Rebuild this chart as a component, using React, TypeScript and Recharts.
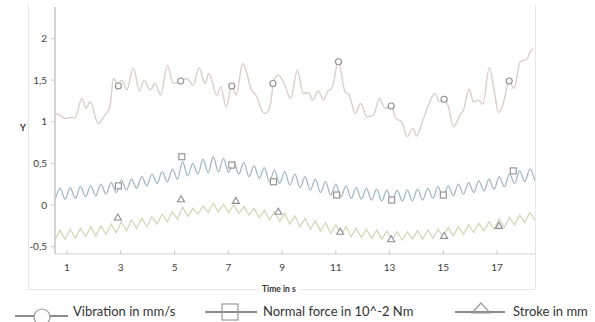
import { ComposedChart, Line, Scatter, XAxis, YAxis } from 'recharts'

// vibration trace: [time s, value]
const vibration: [number, number][] = [
  [0.55, 1.1], [0.74, 1.08], [0.93, 1.04], [1.11, 1.05], [1.3, 1.05], [1.55, 1.28],
  [1.71, 1.16], [1.86, 1.24], [2.16, 0.98], [2.41, 1.08], [2.6, 1.18], [2.72, 1.52],
  [2.91, 1.45], [3.04, 1.5], [3.22, 1.38], [3.47, 1.65], [3.69, 1.37], [3.87, 1.5],
  [4.09, 1.38], [4.27, 1.46], [4.49, 1.32], [4.73, 1.68], [4.96, 1.46], [5.23, 1.49],
  [5.45, 1.52], [5.7, 1.44], [5.91, 1.65], [6.13, 1.46], [6.28, 1.58], [6.57, 1.32],
  [6.72, 1.42], [6.92, 1.18], [7.13, 1.43], [7.29, 1.32], [7.54, 1.7], [7.87, 1.38],
  [8.06, 1.3], [8.21, 1.16], [8.37, 1.1], [8.55, 1.18], [8.7, 1.5], [8.86, 1.56],
  [9.05, 1.48], [9.32, 1.28], [9.57, 1.62], [9.79, 1.34], [9.98, 1.35], [10.14, 1.26],
  [10.35, 1.37], [10.54, 1.26], [10.69, 1.36], [10.85, 1.4], [11.1, 1.72], [11.34, 1.36],
  [11.5, 1.32], [11.72, 1.1], [11.93, 1.22], [12.15, 1.06], [12.4, 1.08], [12.62, 1.28],
  [12.83, 1.16], [13.06, 1.19], [13.24, 1.04], [13.45, 1.0], [13.66, 0.82], [13.86, 0.92],
  [14.01, 0.83], [14.2, 0.98], [14.38, 1.14], [14.69, 1.34], [14.85, 1.24], [15.03, 1.27],
  [15.19, 1.18], [15.37, 0.94], [15.62, 1.08], [15.75, 1.14], [15.96, 1.39], [16.12, 1.24],
  [16.3, 1.26], [16.47, 1.21], [16.71, 1.65], [16.89, 1.38], [17.05, 1.11], [17.23, 1.22],
  [17.45, 1.49], [17.63, 1.4], [17.86, 1.72], [18.1, 1.75], [18.23, 1.84], [18.35, 1.88],
]

// normal force and stroke: alternating troughs and peaks, half a cycle apart
const cycleStart = 0.55
const halfCycle = 0.19

const normalForce = [
  0.06, 0.2, 0.07, 0.21, 0.08, 0.22, 0.1, 0.23, 0.11, 0.25, 0.13, 0.27, 0.15, 0.3, 0.18, 0.31,
  0.2, 0.34, 0.23, 0.37, 0.26, 0.4, 0.28, 0.43, 0.31, 0.52, 0.35, 0.5, 0.37, 0.55, 0.39, 0.58,
  0.4, 0.56, 0.39, 0.52, 0.37, 0.51, 0.34, 0.47, 0.32, 0.45, 0.28, 0.42, 0.26, 0.4, 0.24, 0.37,
  0.21, 0.34, 0.18, 0.31, 0.15, 0.28, 0.12, 0.25, 0.1, 0.23, 0.08, 0.21, 0.07, 0.2, 0.06, 0.19,
  0.05, 0.18, 0.04, 0.18, 0.05, 0.18, 0.05, 0.19, 0.06, 0.2, 0.08, 0.22, 0.09, 0.23, 0.11, 0.25,
  0.13, 0.27, 0.15, 0.29, 0.17, 0.31, 0.19, 0.34, 0.22, 0.37, 0.26, 0.41, 0.28, 0.43, 0.29,
]

const stroke = [
  -0.42, -0.3, -0.41, -0.29, -0.4, -0.28, -0.38, -0.26, -0.37, -0.25, -0.35, -0.23, -0.33, -0.2,
  -0.31, -0.18, -0.28, -0.16, -0.26, -0.14, -0.23, -0.11, -0.2, -0.08, -0.17, -0.02, -0.14, -0.04,
  -0.11, -0.01, -0.09, 0.02, -0.08, 0.01, -0.09, 0.0, -0.1, -0.02, -0.12, -0.04, -0.15, -0.06,
  -0.18, -0.08, -0.2, -0.1, -0.23, -0.13, -0.26, -0.16, -0.29, -0.19, -0.31, -0.21, -0.34, -0.24,
  -0.36, -0.26, -0.38, -0.28, -0.39, -0.29, -0.4, -0.3, -0.41, -0.31, -0.42, -0.32, -0.42, -0.32,
  -0.41, -0.31, -0.41, -0.3, -0.4, -0.29, -0.38, -0.27, -0.37, -0.26, -0.35, -0.24, -0.33, -0.22,
  -0.31, -0.2, -0.29, -0.17, -0.27, -0.15, -0.24, -0.12, -0.21, -0.09, -0.18,
]

// marker positions
const vibMarks: [number, number][] = [
  [2.91, 1.43], [5.23, 1.49], [7.13, 1.43], [8.66, 1.46],
  [11.1, 1.72], [13.06, 1.19], [15.03, 1.27], [17.45, 1.49],
]
const forceMarks: [number, number][] = [
  [2.91, 0.23], [5.27, 0.58], [7.13, 0.48], [8.68, 0.28],
  [11.03, 0.12], [13.08, 0.06], [15.0, 0.12], [17.6, 0.41],
]
const strokeMarks: [number, number][] = [
  [2.89, -0.15], [5.24, 0.07], [7.28, 0.05], [8.86, -0.08],
  [11.16, -0.32], [13.06, -0.41], [15.03, -0.37], [17.07, -0.25],
]

const xTicks = [1, 3, 5, 7, 9, 11, 13, 15, 17]
const yTicks = [-0.5, 0, 0.5, 1, 1.5, 2]

const toPoints = (pairs: [number, number][]) => pairs.map(([t, v]) => ({ t, v }))
const onCycle = (vals: number[]) =>
  vals.map((v, i) => ({ t: +(cycleStart + i * halfCycle).toFixed(2), v }))

const markColor = '#8e8e8e'
const font = 'Lato, "Open Sans", sans-serif'

function CircleMark(p: any) {
  return <circle cx={p.cx} cy={p.cy} r={3} fill="#fff" stroke={markColor} strokeWidth={1.1} />
}
function SquareMark(p: any) {
  return <rect x={p.cx - 3} y={p.cy - 3} width={6} height={6} fill="#fff" stroke={markColor} strokeWidth={1.1} />
}
function TriangleMark(p: any) {
  const { cx, cy } = p
  return (
    <polygon
      points={`${cx},${cy - 3.5} ${cx - 3.5},${cy + 2.5} ${cx + 3.5},${cy + 2.5}`}
      fill="#fff"
      stroke={markColor}
      strokeWidth={1.1}
    />
  )
}

function XTick(p: any) {
  const { x, y, payload } = p
  return (
    <g>
      <line x1={x} x2={x} y1={y - 8} y2={y - 12} stroke="#c8c8c8" />
      <text x={x} y={y + 9} textAnchor="middle" fontSize={10} fill="#404040" fontFamily={font}>
        {payload.value}
      </text>
    </g>
  )
}

function LegendRow() {
  const txt = { fontSize: 13, fill: '#333', fontFamily: font }
  return (
    <svg width={595} height={30} style={{ position: 'absolute', left: 0, top: 296 }}>
      <line x1={15} x2={68} y1={20} y2={20} stroke="#8a8a8a" strokeWidth={2} />
      <circle cx={42} cy={21} r={8} fill="#fff" stroke="#9a9a9a" strokeWidth={1.2} />
      <text x={73} y={20} {...txt}>Vibration in mm/s</text>
      <line x1={205} x2={257} y1={16} y2={16} stroke="#8a8a8a" strokeWidth={2} />
      <rect x={222} y={8} width={16} height={16} fill="none" stroke="#9a9a9a" strokeWidth={1.2} />
      <text x={263} y={20} {...txt}>Normal force in 10^-2 Nm</text>
      <line x1={455} x2={505} y1={16} y2={16} stroke="#8a8a8a" strokeWidth={2} />
      <polygon points="481,7 472,17 490,17" fill="none" stroke="#9a9a9a" strokeWidth={1.2} />
      <text x={513} y={20} {...txt}>Stroke in mm</text>
    </svg>
  )
}

export default function App() {
  return (
    <div
      style={{
        position: 'absolute',
        left: 0,
        top: 0,
        width: 595,
        height: 322,
        background: '#fff',
        overflow: 'hidden',
        fontFamily: font,
      }}
    >
      <div
        style={{
          position: 'absolute',
          left: 28,
          top: 5,
          width: 506,
          height: 284,
          borderLeft: '1px solid #e6e6e6',
          borderRight: '1px solid #e6e6e6',
          borderBottom: '1px solid #e6e6e6',
        }}
      />
      <div style={{ position: 'absolute', left: 0, top: 0 }}>
        <ComposedChart width={595} height={296} margin={{ top: 7, right: 60, left: 0, bottom: 12 }}>
          <XAxis
            dataKey="t"
            type="number"
            domain={[0.553, 18.41]}
            ticks={xTicks}
            allowDataOverflow
            height={30}
            axisLine={{ stroke: '#d2d2d2', strokeWidth: 1.2 }}
            tickLine={false}
            tick={<XTick />}
          />
          <YAxis
            type="number"
            domain={[-0.588, 2.378]}
            ticks={yTicks}
            allowDataOverflow
            width={55}
            tickSize={4}
            tickMargin={4}
            tickFormatter={(v: number) => String(v).replace('.', ',')}
            axisLine={{ stroke: '#c6c6c6', strokeWidth: 1.5 }}
            tickLine={{ stroke: '#c6c6c6' }}
            tick={{ fontSize: 10, fill: '#404040', fontFamily: font }}
          />
          <Line
            data={toPoints(vibration)}
            dataKey="v"
            type="monotone"
            stroke="#d9cfcc"
            strokeWidth={1.4}
            dot={false}
            isAnimationActive={false}
          />
          <Line
            data={onCycle(normalForce)}
            dataKey="v"
            type="monotone"
            stroke="#a3b8c4"
            strokeWidth={1.3}
            dot={false}
            isAnimationActive={false}
          />
          <Line
            data={onCycle(stroke)}
            dataKey="v"
            type="linear"
            stroke="#d8d5bc"
            strokeWidth={1.3}
            dot={false}
            isAnimationActive={false}
          />
          <Scatter data={toPoints(vibMarks)} dataKey="v" shape={CircleMark} isAnimationActive={false} />
          <Scatter data={toPoints(forceMarks)} dataKey="v" shape={SquareMark} isAnimationActive={false} />
          <Scatter data={toPoints(strokeMarks)} dataKey="v" shape={TriangleMark} isAnimationActive={false} />
        </ComposedChart>
      </div>
      <div
        style={{
          position: 'absolute',
          left: 18,
          top: 121,
          padding: '1px 2px',
          background: '#fff',
          fontSize: 9,
          fontWeight: 700,
          color: '#333',
        }}
      >
        Y
      </div>
      <div
        style={{
          position: 'absolute',
          left: 258,
          top: 283,
          padding: '0 4px',
          background: '#fff',
          fontSize: 8.5,
          fontWeight: 700,
          color: '#333',
          lineHeight: '12px',
        }}
      >
        Time in s
      </div>
      <LegendRow />
    </div>
  )
}
